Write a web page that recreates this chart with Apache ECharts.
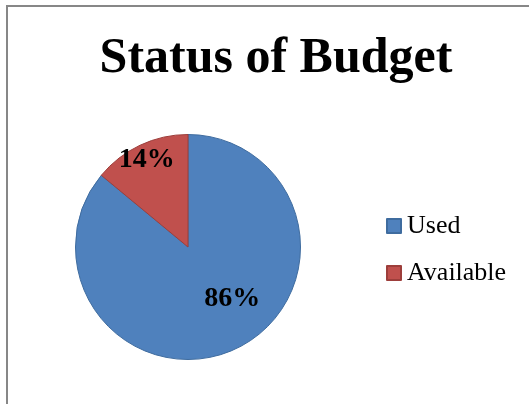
<!DOCTYPE html>
<html>
<head>
<meta charset="utf-8">
<script src="https://cdn.jsdelivr.net/npm/echarts@6/dist/echarts.min.js"></script>
<style>
  html, body { margin: 0; padding: 0; background: #ffffff; overflow: hidden; }
  #chart { width: 529px; height: 404px; }
</style>
</head>
<body>
<div id="chart"></div>
<script>
// Budget split shown as a two-slice pie
const categories = ['Used', 'Available'];
const shares = [86, 14];
const fills = ['#4F81BD', '#C0504D'];
const edges = ['#3F6C9F', '#9D3E3B'];

// nudges that move each percentage label off the default mid-radius spot
const labelNudge = [[19, -2], [-16, -34]];

const chart = echarts.init(document.getElementById('chart'), null, { renderer: 'canvas' });

chart.setOption({
  backgroundColor: '#ffffff',
  animation: false,
  graphic: [
    // frame edges along the top and left of the chart area
    {
      type: 'line',
      shape: { x1: 6, y1: 6, x2: 529, y2: 6 },
      style: { stroke: '#878787', lineWidth: 2 },
      silent: true
    },
    {
      type: 'line',
      shape: { x1: 7, y1: 5, x2: 7, y2: 404 },
      style: { stroke: '#878787', lineWidth: 2 },
      silent: true
    }
  ],
  title: {
    text: 'Status of Budget',
    left: 271,
    textAlign: 'center',
    top: 29,
    textStyle: {
      fontFamily: 'Liberation Serif',
      fontWeight: 'bold',
      fontSize: 50,
      color: '#000000'
    }
  },
  legend: {
    orient: 'vertical',
    left: 381,
    top: 208,
    itemWidth: 14,
    itemHeight: 14,
    itemGap: 21,
    icon: 'rect',
    data: categories,
    textStyle: {
      fontFamily: 'Liberation Serif',
      fontSize: 26,
      color: '#000000',
      padding: [0, 0, 0, 1]
    }
  },
  series: [{
    type: 'pie',
    center: [188, 247],
    radius: 112.5,
    startAngle: 90,
    clockwise: true,
    data: categories.map((name, i) => ({
      name: name,
      value: shares[i],
      itemStyle: { color: fills[i], borderColor: edges[i], borderWidth: 1 }
    })),
    label: {
      show: true,
      position: 'inside',
      formatter: p => p.value + '%',
      fontFamily: 'Liberation Serif',
      fontWeight: 'bold',
      fontSize: 28,
      color: '#000000'
    },
    labelLine: { show: false },
    labelLayout: function (params) {
      const n = labelNudge[params.dataIndex];
      return { dx: n[0], dy: n[1] };
    },
    emphasis: { disabled: true }
  }]
});
</script>
</body>
</html>
